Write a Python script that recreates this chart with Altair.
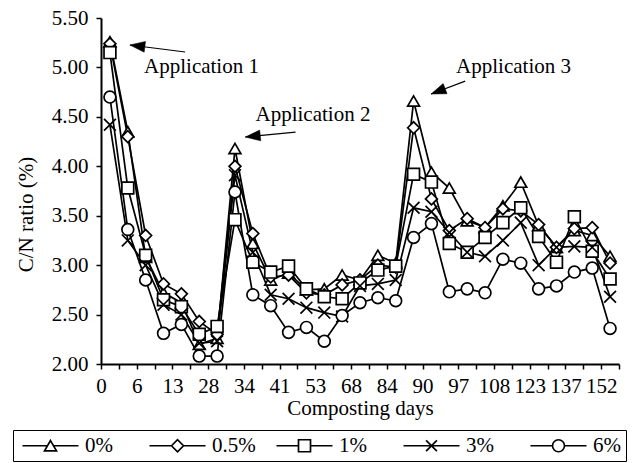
import json
import altair as alt
import pandas as pd

# ---------------- data ----------------
series = ["0%", "0.5%", "1%", "3%", "6%"]
day_labels = ["0", "6", "13", "28", "34", "41", "53", "68", "84", "90",
              "97", "108", "123", "137", "152"]

s_0 = [5.26, 4.35, 3.08, 2.72, 2.62, 2.20, 2.26, 4.18, 3.22, 2.85, 2.92, 2.75, 2.76, 2.90, 2.85,
       3.10, 3.02, 4.66, 3.94, 3.78, 3.45, 3.38, 3.60, 3.84, 3.40, 3.18, 3.35, 3.30, 3.09]
s_05 = [5.24, 4.30, 3.30, 2.81, 2.71, 2.43, 2.30, 4.00, 3.32, 2.88, 2.90, 2.72, 2.70, 2.80, 2.85,
        3.00, 2.98, 4.39, 3.67, 3.35, 3.47, 3.38, 3.57, 3.55, 3.41, 3.18, 3.37, 3.38, 3.02]
s_1 = [5.15, 3.78, 3.10, 2.65, 2.58, 2.30, 2.38, 3.46, 3.03, 2.93, 2.99, 2.76, 2.68, 2.66, 2.82,
       2.95, 2.99, 3.92, 3.84, 3.22, 3.13, 3.28, 3.43, 3.58, 3.29, 3.03, 3.49, 3.14, 2.86]
s_3 = [4.42, 3.25, 3.00, 2.60, 2.50, 2.21, 2.23, 3.91, 3.13, 2.70, 2.66, 2.57, 2.52, 2.48, 2.79,
       2.81, 2.85, 3.58, 3.54, 3.33, 3.13, 3.09, 3.25, 3.43, 3.00, 3.18, 3.19, 3.18, 2.68]
s_6 = [4.70, 3.36, 2.85, 2.31, 2.40, 2.08, 2.08, 3.74, 2.70, 2.59, 2.32, 2.37, 2.23, 2.49, 2.62,
       2.67, 2.64, 3.28, 3.42, 2.73, 2.76, 2.72, 3.06, 3.02, 2.76, 2.79, 2.93, 2.97, 2.36]
all_values = [s_0, s_05, s_1, s_3, s_6]

ann_text = ["Application 1", "Application 2", "Application 3"]
ann_x = [1.91, 8.15, 19.38]
ann_y = [5.00, 4.52, 5.00]
arrow_tail_x = [4.21, 10.39, 19.89]
arrow_tail_y = [5.156, 4.346, 4.862]
arrow_head_x = [1.12, 7.58, 17.98]
arrow_head_y = [5.227, 4.296, 4.731]
arrow_angle = [277, 264, 249]

# ---------------- tables ----------------
rows = []
for name, vals in zip(series, all_values):
    for i, v in enumerate(vals):
        rows.append({"idx": i, "value": v, "series": name})
df = pd.DataFrame(rows)

ann_df = pd.DataFrame({"idx": ann_x, "value": ann_y, "label": ann_text})
arrow_df = pd.DataFrame({"idx": arrow_tail_x, "value": arrow_tail_y,
                         "idx2": arrow_head_x, "value2": arrow_head_y})
head_df = pd.DataFrame({"idx": arrow_head_x, "value": arrow_head_y, "ang": arrow_angle})

n = len(s_0)
tick_vals = [k - 0.5 for k in range(n + 1)]
arr = json.dumps(day_labels)
label_expr = (f"(round(datum.value + 0.5) % 2 == 0) ? "
              f"{arr}[round((datum.value + 0.5) / 2)] : ''")

FONT = "Liberation Serif, Times New Roman, Times, serif"

x_axis = alt.Axis(values=tick_vals, labelExpr=label_expr, title="Composting days",
                  grid=False, labelOverlap=False, labelBound=False, tickSize=5,
                  labelPadding=6, titleY=44, titleBaseline="middle", labelFlush=False)
y_axis = alt.Axis(values=[2, 2.5, 3, 3.5, 4, 4.5, 5, 5.5], format=".2f",
                  title="C/N ratio (%)", grid=False, tickSize=5, labelPadding=8,
                  labelOverlap=False,
                  titleX=-75, titleY=196, titleAngle=270,
                  titleAlign="center", titleBaseline="middle")
x_scale = alt.Scale(domain=[-0.5, n - 0.5], nice=False, zero=False)
y_scale = alt.Scale(domain=[2, 5.5], nice=False, zero=False)


def X():
    return alt.X("idx:Q", scale=x_scale, axis=x_axis)


def Y():
    return alt.Y("value:Q", scale=y_scale, axis=y_axis)


base = alt.Chart(df)

lines = base.mark_line(color="black", strokeWidth=1.7).encode(
    x=X(), y=Y(), detail="series:N")

marker_shapes = ["triangle-up", "diamond", "square", "M-1,-1L1,1M-1,1L1,-1", "circle"]
points = base.mark_point(filled=True, fill="white", stroke="black", strokeWidth=1.7,
                         opacity=1, size=140).encode(
    x=X(), y=Y(),
    shape=alt.Shape("series:N", scale=alt.Scale(domain=series, range=marker_shapes),
                    legend=None))

# legend symbols: marker with a line through it (unit = half of symbol diameter)
legend_paths = [
    "M-4.667,0L-0.5,0M0.5,0L4.667,0M0,-0.866L1,0.866L-1,0.866Z",
    "M-4.667,0L-1,0M1,0L4.667,0M-1,0L0,-1L1,0L0,1Z",
    "M-4.667,0L-1,0M1,0L4.667,0M-1,-1L1,-1L1,1L-1,1Z",
    "M-4.667,0L4.667,0M-0.9,-0.9L0.9,0.9M-0.9,0.9L0.9,-0.9",
    "M-4.667,0L-1,0M1,0L4.667,0M1,0A1,1,0,1,1,-1,0A1,1,0,1,1,1,0Z",
]
legend_layer = base.transform_filter("false").mark_point(
    filled=False, color="black", strokeWidth=1.7, opacity=1, size=144
).encode(
    x=X(), y=Y(),
    shape=alt.Shape("series:N", scale=alt.Scale(domain=series, range=legend_paths),
                    legend=alt.Legend(title=None, orient="none", legendX=-88, legendY=412,
                                      direction="horizontal", columns=5, gridAlign="all",
                                      symbolSize=144, symbolOffset=22,
                                      symbolStrokeColor="black", symbolOpacity=1,
                                      symbolStrokeWidth=1.7, labelOffset=24,
                                      columnPadding=16, padding=5,
                                      strokeColor="black", labelFont=FONT,
                                      labelFontSize=21, labelColor="black",
                                      labelLimit=200)))

texts = alt.Chart(ann_df).mark_text(align="left", baseline="middle", font=FONT,
                                    fontSize=21, color="black").encode(
    x=X(), y=Y(), text="label:N")

arrows = alt.Chart(arrow_df).mark_rule(color="black", strokeWidth=1.2).encode(
    x=X(), y=Y(), x2="idx2:Q", y2="value2:Q")

heads = alt.Chart(head_df).mark_point(shape="M0,0L0.36,1L-0.36,1Z", filled=True,
                                      fill="black", stroke="black", strokeWidth=0.5,
                                      opacity=1, size=900).encode(
    x=X(), y=Y(), angle=alt.Angle("ang:Q", scale=None))

chart = alt.layer(lines, points, legend_layer, texts, arrows, heads).resolve_scale(
    shape="independent"
).properties(
    width=518, height=346,
    autosize=alt.AutoSizeParams(type="none"),
    padding={"left": 101, "top": 18, "right": 19, "bottom": 99},
    background="white",
).configure(font=FONT).configure_view(stroke=None).configure_axis(
    labelFont=FONT, titleFont=FONT, labelFontSize=21, titleFontSize=21,
    labelColor="black", titleColor="black", titleFontWeight="normal",
    domainColor="black", domainWidth=2, tickColor="black", tickWidth=1.5,
    labelOverlap=False,
).configure_legend(labelFont=FONT)

chart.save("out.html", embed_options={"renderer": "svg", "actions": False})
